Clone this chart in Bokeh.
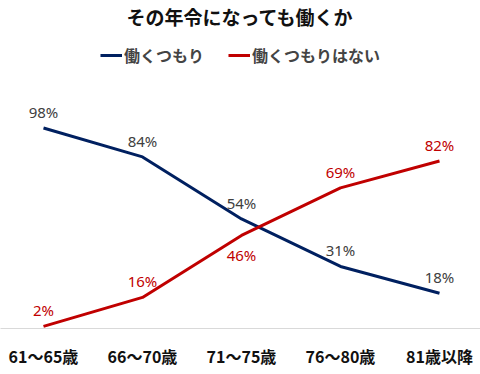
from bokeh.plotting import figure
from bokeh.models import Legend, LegendItem, FixedTicker, ColumnDataSource, Label
from bokeh.core.properties import value
from bokeh.embed import file_html
from bokeh.resources import INLINE

title = "その年令になっても働くか"
categories = ["61～65歳", "66～70歳", "71～75歳", "76～80歳", "81歳以降"]
series_names = ["働くつもり", "働くつもりはない"]
will_work = [98, 84, 54, 31, 18]
will_not_work = [2, 16, 46, 69, 82]

# style: vertical pixel offsets of value labels (negative = above)
off_work = [-16, -16, -16, -16, -16]
off_not = [-16, -16, 20, -16, -16]

JP = "Noto Sans CJK JP"
x = list(range(len(categories)))

p = figure(width=480, height=370, output_backend="svg", toolbar_location=None,
           x_range=(-0.4343, 4.4141), y_range=(0.965, 159.7),
           min_border_left=0, min_border_right=0, min_border_bottom=0, min_border_top=0)

blue = "#002060"
red = "#c00000"

r1 = p.line(x, will_work, line_color=blue, line_width=3)
r2 = p.line(x, will_not_work, line_color=red, line_width=3)

s1 = ColumnDataSource(dict(x=x, y=will_work, t=[f"{v}%" for v in will_work], o=off_work))
s2 = ColumnDataSource(dict(x=x, y=will_not_work, t=[f"{v}%" for v in will_not_work], o=off_not))
p.text(x="x", y="y", text="t", y_offset="o", source=s1, text_align="center",
       text_baseline="middle", text_color="#404040", text_font=value("Noto Sans"),
       text_font_size="15px")
p.text(x="x", y="y", text="t", y_offset="o", source=s2, text_align="center",
       text_baseline="middle", text_color=red, text_font=value("Noto Sans"),
       text_font_size="15px")

p.add_layout(Label(x=240, y=312, x_units="screen", y_units="screen", text=title,
                   text_align="center", text_baseline="middle", text_font=JP,
                   text_font_size="19px", text_font_style="bold", text_color="#111111"))

legend = Legend(items=[LegendItem(label=series_names[0], renderers=[r1]),
                       LegendItem(label=series_names[1], renderers=[r2])],
                orientation="horizontal", location="top_center",
                label_text_font=JP, label_text_font_style="bold",
                label_text_font_size="16px", glyph_width=22, spacing=24,
                border_line_color=None, background_fill_alpha=0,
                padding=2, margin=43, label_standoff=2)
p.add_layout(legend)

p.yaxis.visible = False
p.xgrid.visible = False
p.ygrid.visible = False
p.outline_line_color = None

ax = p.xaxis[0]
ax.ticker = FixedTicker(ticks=x)
ax.major_label_overrides = {i: c for i, c in enumerate(categories)}
ax.major_tick_line_color = None
ax.major_tick_out = 0
ax.major_tick_in = 0
ax.minor_tick_line_color = None
ax.axis_line_color = "#d9d9d9"
ax.axis_line_width = 1
ax.major_label_text_font = JP
ax.major_label_text_font_style = "bold"
ax.major_label_text_font_size = "16px"
ax.major_label_text_color = "#111111"
ax.major_label_standoff = 15

open("out.html", "w").write(file_html(p, INLINE))
